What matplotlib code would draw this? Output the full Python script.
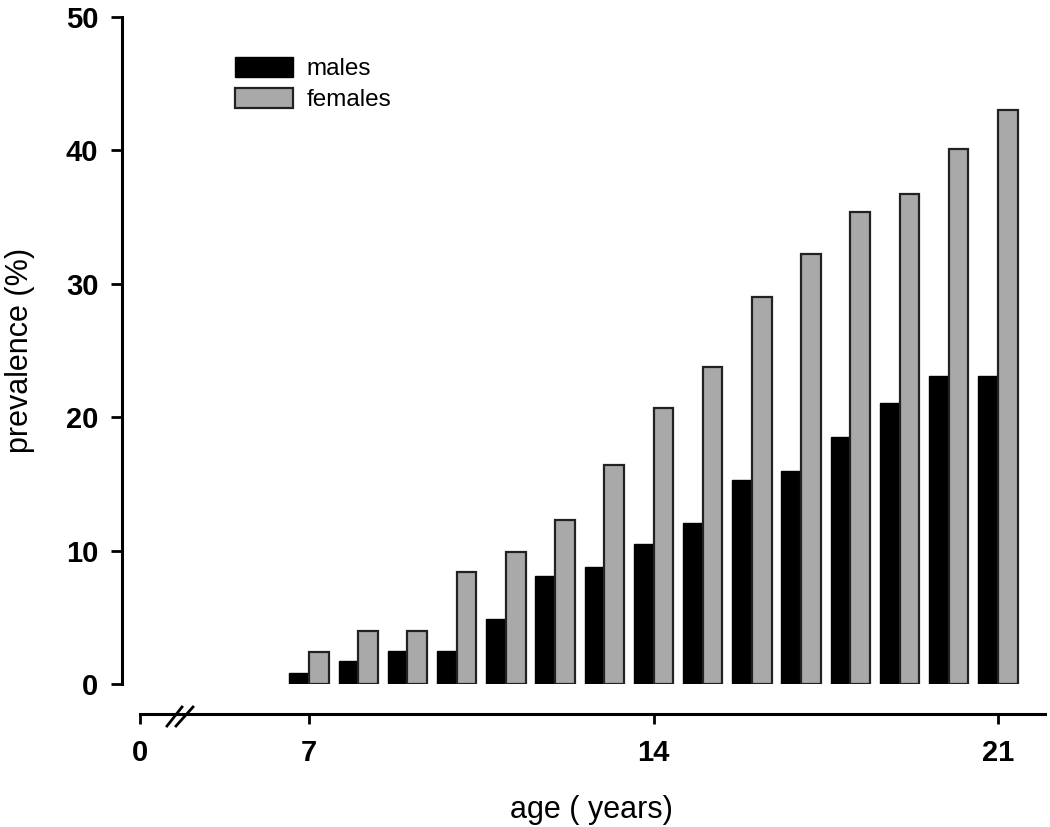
#!/usr/bin/env python3
"""
Prevalence by age for males and females, bar chart with a broken age axis.
"""

import numpy as np
import matplotlib
matplotlib.use('Agg')
import matplotlib.pyplot as plt
from matplotlib.lines import Line2D

# Data
ages = [7, 8, 9, 10, 11, 12, 13, 14, 15, 16, 17, 18, 19, 20, 21]
males = [0.8, 1.7, 2.5, 2.5, 4.9, 8.1, 8.8, 10.5, 12.1, 15.3, 16.0, 18.5, 21.1, 23.1, 23.1]
females = [2.4, 4.0, 4.0, 8.4, 9.9, 12.3, 16.4, 20.7, 23.8, 29.0, 32.2, 35.4, 36.7, 40.1, 43.0]
series_labels = ['males', 'females']
x_tick_labels = ['0', '7', '14', '21']
y_ticks = [0, 10, 20, 30, 40, 50]

# Layout: the "0" tick sits left of the axis break, not at a true age of 0
zero_pos = 3.566
x_min, x_max = 3.20, 21.955
bar_w = 0.4

plt.rcParams['font.family'] = ['Liberation Sans', 'DejaVu Sans']

W, H = 1050, 827
fig = plt.figure(figsize=(W / 100, H / 100), dpi=100)
ax = fig.add_axes([122 / W, 1 - 684 / H, (1045 - 122) / W, (684 - 17) / H])

x = np.array(ages, dtype=float)
ax.bar(x - bar_w / 2, males, width=bar_w, color='black', edgecolor='black',
       linewidth=1.0, label=series_labels[0])
ax.bar(x + bar_w / 2, females, width=bar_w, color='#a9a9a9', edgecolor='#222222',
       linewidth=1.6, label=series_labels[1])

ax.set_xlim(x_min, x_max)
ax.set_ylim(0, 50)

# Spines
for side in ['top', 'right']:
    ax.spines[side].set_visible(False)
ax.spines['left'].set_linewidth(2.2)
ax.spines['left'].set_bounds(0, 50)
ax.spines['bottom'].set_linewidth(2.2)
ax.spines['bottom'].set_position(('outward', 21.6))
ax.spines['bottom'].set_bounds(zero_pos, x_max)

# Ticks
ax.set_yticks(y_ticks)
ax.set_yticklabels([str(v) for v in y_ticks], fontsize=21, fontweight='bold')
ax.set_xticks([zero_pos, 7, 14, 21])
ax.set_xticklabels(x_tick_labels, fontsize=21, fontweight='bold')
ax.tick_params(axis='y', direction='out', length=8, width=2, pad=9)
ax.tick_params(axis='x', direction='out', length=7, width=2, pad=11)

ax.set_xlabel('age ( years)', fontsize=22)
ax.xaxis.set_label_coords(0.509, -0.166)
ax.set_ylabel('prevalence (%)', fontsize=22, labelpad=22)

# Axis break marks "//" on the age axis
for x0, x1 in [(167, 182), (176, 193)]:
    fig.add_artist(Line2D([x0 / W, x1 / W], [1 - 726 / H, 1 - 707 / H],
                          color='black', linewidth=2.0))

fig.legend(loc='upper left', bbox_to_anchor=(235 / W, 1 - 57 / H),
           frameon=False, fontsize=17.5, handlelength=2.4, handleheight=0.9,
           handletextpad=0.55, labelspacing=0.3, borderpad=0, borderaxespad=0)

plt.savefig('out.png', dpi=100)
plt.close()
